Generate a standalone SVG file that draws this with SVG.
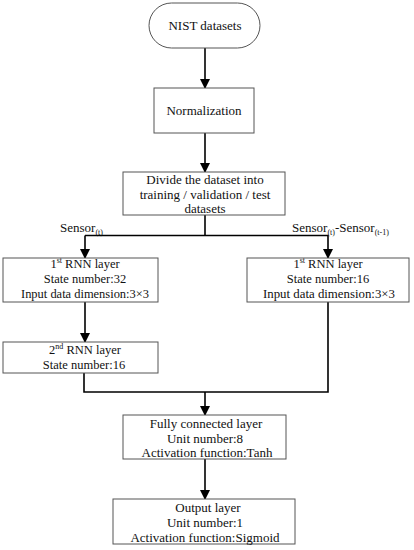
<svg xmlns="http://www.w3.org/2000/svg" width="414" height="550" viewBox="0 0 414 550" font-family="'Liberation Serif', 'DejaVu Serif', serif">
<defs>
<marker id="ah" markerWidth="10" markerHeight="12" refX="9" refY="5" orient="auto" markerUnits="userSpaceOnUse">
<path d="M0,0 L10,5 L0,10 Z" fill="#000"/>
</marker>
</defs>
<style>
.box{fill:#fff;stroke:#555;stroke-width:1}
.t{font-family:'Liberation Serif','DejaVu Serif',serif;font-size:13px;fill:#111;text-anchor:middle}
.s{font-size:12.5px}
.l{text-anchor:start}
.c{fill:none;stroke:#000;stroke-width:1.6}
.sup{font-size:8px}
</style>
<rect width="414" height="550" fill="#fff"/>
<g id="connectors">
<line class="c" x1="205" y1="48" x2="205" y2="88" marker-end="url(#ah)"/>
<line class="c" x1="205" y1="133" x2="205" y2="172" marker-end="url(#ah)"/>
<line class="c" x1="205" y1="215" x2="205" y2="235.5"/>
<polyline class="c" points="85,235.5 328,235.5 328,258" marker-end="url(#ah)"/>
<line class="c" x1="85" y1="235.5" x2="85" y2="258" marker-end="url(#ah)"/>
<line class="c" x1="85" y1="302" x2="85" y2="342" marker-end="url(#ah)"/>
<polyline class="c" points="84,373 84,392 328,392 328,302"/>
<line class="c" x1="205" y1="392" x2="205" y2="415" marker-end="url(#ah)"/>
<line class="c" x1="205" y1="459" x2="205" y2="499" marker-end="url(#ah)"/>
<text class="t l" x="60" y="232">Sensor<tspan class="sup" dy="3">(t)</tspan></text>
<text class="t l" x="292" y="232">Sensor<tspan class="sup" dy="3">(t)</tspan><tspan dy="-3">-Sensor</tspan><tspan class="sup" dy="3">(t-1)</tspan></text>
</g>
<g id="nist">
<rect class="box" x="149" y="3" width="111" height="45" rx="22.5" ry="22.5"/>
<text class="t" x="205" y="30">NIST datasets</text>
</g>
<g id="normalization">
<rect class="box" x="154" y="88" width="100" height="45"/>
<text class="t" x="204" y="115">Normalization</text>
</g>
<g id="divide">
<rect class="box" x="123" y="172" width="162" height="43"/>
<text class="t" x="205" y="184">Divide the dataset into</text>
<text class="t" x="205" y="199">training / validation / test</text>
<text class="t" x="205" y="213">datasets</text>
</g>
<g id="rnn1-left">
<rect class="box" x="3" y="258" width="155" height="44"/>
<text class="t s" x="85" y="268">1<tspan class="sup" dy="-5">st</tspan><tspan dy="5"> RNN layer</tspan></text>
<text class="t s" x="85" y="283">State number:32</text>
<text class="t s" x="85" y="298" textLength="128" lengthAdjust="spacingAndGlyphs">Input data dimension:3×3</text>
</g>
<g id="rnn2-left">
<rect class="box" x="3" y="342" width="155" height="31"/>
<text class="t s" x="85" y="354">2<tspan class="sup" dy="-5">nd</tspan><tspan dy="5"> RNN layer</tspan></text>
<text class="t s" x="84" y="369">State number:16</text>
</g>
<g id="rnn1-right">
<rect class="box" x="247" y="258" width="162" height="44"/>
<text class="t s" x="328" y="268">1<tspan class="sup" dy="-5">st</tspan><tspan dy="5"> RNN layer</tspan></text>
<text class="t s" x="328" y="283">State number:16</text>
<text class="t s" x="329" y="298" textLength="132" lengthAdjust="spacingAndGlyphs">Input data dimension:3×3</text>
</g>
<g id="fc">
<rect class="box" x="123" y="415" width="163" height="44"/>
<text class="t" x="206" y="428">Fully connected layer</text>
<text class="t" x="205" y="443">Unit number:8</text>
<text class="t" x="207" y="457">Activation function:Tanh</text>
</g>
<g id="output">
<rect class="box" x="113" y="499" width="182" height="45"/>
<text class="t" x="208" y="512">Output layer</text>
<text class="t" x="205" y="527">Unit number:1</text>
<text class="t" x="205" y="542">Activation function:Sigmoid</text>
</g>
</svg>
